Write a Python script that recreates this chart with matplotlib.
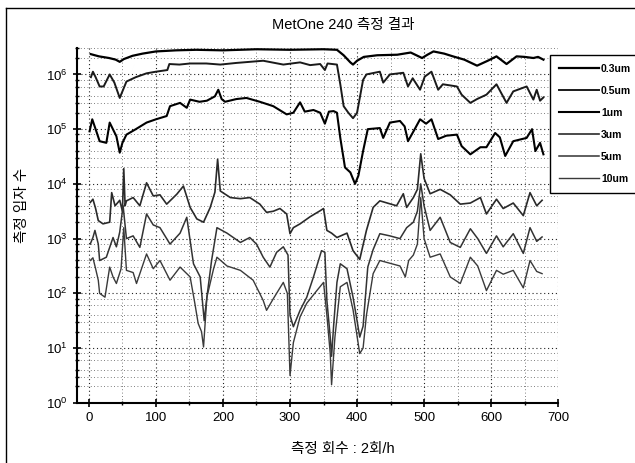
import numpy as np
import matplotlib
matplotlib.use('Agg')
import matplotlib.pyplot as plt
from matplotlib.ticker import MultipleLocator, LogLocator, NullFormatter
from matplotlib.lines import Line2D

# values are log10(count)
x_03 = [3, 15, 30, 40, 46, 52, 65, 80, 100, 130, 160, 200, 250, 300, 350, 370, 380, 390, 394, 400,
        410, 430, 460, 480, 497, 505, 514, 530, 543, 560, 579, 595, 608, 623, 638, 650, 663, 670, 678]
lg_03 = [6.37, 6.33, 6.30, 6.27, 6.23, 6.28, 6.34, 6.38, 6.42, 6.44, 6.45, 6.44, 6.46, 6.45, 6.46, 6.45, 6.35, 6.22, 6.18, 6.25,
         6.32, 6.35, 6.36, 6.40, 6.30, 6.36, 6.42, 6.38, 6.33, 6.27, 6.16, 6.25, 6.33, 6.19, 6.33, 6.32, 6.30, 6.32, 6.27]

x_05 = [3, 6, 10, 16, 22, 31, 38, 46, 52, 56, 70, 86, 100, 117, 120, 135, 151, 175, 196, 220,
        240, 260, 290, 315, 330, 345, 352, 356, 370, 375, 380, 387, 394, 400, 409, 414, 434, 439, 449, 469,
        476, 483, 494, 501, 511, 521, 528, 549, 556, 569, 579, 593, 608, 623, 633, 653, 663, 668, 673, 678]
lg_05 = [5.95, 6.05, 5.95, 5.78, 5.78, 6.00, 5.85, 5.57, 5.75, 5.87, 5.95, 6.02, 6.05, 6.08, 6.19, 6.18, 6.20, 6.20, 6.18, 6.21,
         6.23, 6.25, 6.18, 6.22, 6.17, 6.19, 6.08, 6.20, 6.18, 5.82, 5.42, 5.30, 5.20, 5.30, 5.90, 6.00, 6.05, 5.85, 6.00, 6.03,
         5.78, 5.93, 5.72, 5.96, 6.05, 5.72, 5.82, 5.78, 5.63, 5.48, 5.55, 5.63, 5.82, 5.48, 5.69, 5.78, 5.54, 5.72, 5.52, 5.58]

x_1 = [1, 5, 10, 16, 26, 31, 41, 46, 50, 56, 70, 86, 100, 116, 121, 136, 146, 151, 165, 176,
       188, 193, 198, 203, 220, 235, 255, 275, 295, 305, 315, 322, 335, 345, 352, 358, 365, 370, 375, 382,
       390, 397, 402, 409, 416, 434, 439, 449, 464, 471, 476, 486, 494, 503, 511, 521, 533, 549, 556, 569,
       584, 593, 606, 613, 621, 633, 653, 661, 666, 673, 678]
lg_1 = [4.96, 5.18, 5.00, 4.78, 4.75, 5.12, 4.87, 4.57, 4.75, 4.90, 5.00, 5.12, 5.18, 5.24, 5.42, 5.48, 5.39, 5.54, 5.50, 5.52,
        5.60, 5.72, 5.55, 5.50, 5.55, 5.57, 5.50, 5.42, 5.27, 5.30, 5.49, 5.32, 5.35, 5.30, 5.10, 5.32, 5.33, 5.30, 4.84, 4.30,
        4.21, 4.00, 4.15, 4.60, 5.00, 5.02, 4.84, 5.12, 5.15, 5.05, 4.78, 5.00, 5.18, 5.10, 5.18, 4.82, 4.88, 4.90, 4.69, 4.54,
        4.67, 4.67, 4.93, 4.85, 4.51, 4.78, 4.84, 5.00, 4.60, 4.75, 4.54]

x_3 = [2, 6, 10, 14, 21, 31, 34, 39, 46, 50, 52, 54, 56, 66, 76, 86, 96, 106, 116, 131,
       141, 151, 161, 171, 181, 188, 192, 196, 211, 226, 240, 255, 265, 275, 285, 295, 300, 305, 315, 330,
       345, 350, 355, 362, 370, 385, 394, 404, 414, 424, 434, 459, 469, 474, 484, 490, 495, 500, 509, 524,
       539, 554, 569, 584, 593, 608, 618, 633, 648, 658, 668, 676]
lg_3 = [3.66, 3.72, 3.55, 3.33, 3.27, 3.30, 3.84, 3.60, 3.70, 3.50, 4.28, 3.60, 3.69, 3.75, 3.60, 4.02, 3.78, 3.80, 3.63, 3.81,
        3.96, 3.57, 3.36, 3.30, 3.57, 3.85, 4.45, 3.87, 3.75, 3.73, 3.75, 3.63, 3.48, 3.50, 3.55, 3.45, 3.09, 3.20, 3.27, 3.40,
        3.51, 3.55, 3.15, 3.10, 3.02, 3.10, 2.78, 2.62, 3.15, 3.57, 3.69, 3.60, 3.82, 3.57, 3.75, 3.90, 4.55, 4.10, 3.82, 3.90,
        3.80, 3.63, 3.65, 3.75, 3.45, 3.72, 3.55, 3.65, 3.42, 3.84, 3.60, 3.70]

x_5 = [2, 6, 9, 14, 16, 26, 36, 41, 46, 51, 56, 66, 76, 86, 96, 106, 121, 136, 146, 156,
       166, 172, 176, 183, 191, 206, 226, 240, 250, 260, 270, 280, 290, 297, 300, 305, 315, 325, 335, 347,
       352, 355, 360, 362, 365, 370, 375, 385, 394, 400, 404, 409, 416, 424, 434, 449, 464, 474, 484, 490,
       495, 500, 509, 524, 539, 554, 569, 580, 593, 608, 618, 633, 648, 658, 668, 676]
lg_5 = [2.90, 3.02, 3.15, 2.90, 2.60, 2.66, 3.02, 2.85, 3.12, 3.60, 3.00, 3.05, 2.84, 3.45, 3.25, 3.20, 2.90, 3.10, 3.39, 2.54,
        2.30, 1.50, 1.93, 2.60, 3.20, 3.10, 2.93, 3.02, 2.90, 2.66, 2.48, 2.75, 2.85, 2.70, 1.60, 1.39, 1.69, 1.93, 2.30, 2.78,
        2.75, 1.87, 1.20, 0.85, 1.40, 2.20, 2.54, 2.45, 1.93, 1.50, 1.20, 1.40, 2.48, 2.80, 3.09, 3.05, 3.00, 3.20, 3.30, 3.50,
        4.00, 3.60, 3.15, 3.39, 2.93, 2.84, 3.18, 3.00, 2.73, 3.05, 2.85, 3.09, 2.73, 3.20, 2.95, 3.03]

x_10 = [2, 6, 10, 14, 16, 24, 31, 36, 41, 48, 52, 56, 66, 71, 86, 96, 106, 121, 136, 151,
        158, 163, 168, 171, 176, 186, 191, 206, 226, 245, 260, 265, 275, 290, 296, 300, 305, 315, 325, 340,
        350, 355, 360, 362, 367, 375, 385, 394, 404, 409, 414, 424, 434, 449, 464, 472, 477, 484, 490, 495,
        500, 509, 524, 539, 554, 569, 580, 593, 608, 618, 633, 648, 658, 668, 676]
lg_10 = [2.60, 2.65, 2.45, 2.24, 2.00, 1.93, 2.48, 2.30, 2.18, 2.45, 3.20, 2.42, 2.38, 2.18, 2.72, 2.45, 2.60, 2.24, 2.48, 2.30,
         1.82, 1.45, 1.30, 1.02, 1.93, 2.45, 2.66, 2.50, 2.42, 2.24, 1.87, 1.69, 1.90, 2.20, 2.00, 0.50, 1.10, 1.57, 1.82, 2.05,
         2.20, 1.60, 0.90, 0.33, 1.20, 2.12, 2.20, 1.70, 0.90, 1.00, 1.60, 2.36, 2.60, 2.55, 2.50, 2.30, 2.60, 2.70, 2.90, 3.75,
         3.00, 2.66, 2.72, 2.30, 2.18, 2.66, 2.50, 2.05, 2.42, 2.35, 2.42, 2.10, 2.60, 2.40, 2.36]

labels = ['0.3um', '0.5um', '1um', '3um', '5um', '10um']
xs = [x_03, x_05, x_1, x_3, x_5, x_10]
lgs = [lg_03, lg_05, lg_1, lg_3, lg_5, lg_10]
colors = ['#000000', '#1a1a1a', '#000000', '#2a2a2a', '#333333', '#3a3a3a']
widths = [1.6, 1.4, 1.5, 1.2, 1.1, 1.0]

plt.rcParams['font.family'] = ['Liberation Sans', 'Noto Sans CJK KR']

fig = plt.figure(figsize=(6.35, 4.63), dpi=100)
ax = fig.add_axes([0.121, 0.13, 0.758, 0.766])

for x, lg, lab, c, w in zip(xs, lgs, labels, colors, widths):
    ax.plot(x, 10 ** np.array(lg), color=c, lw=w, label=lab)

ax.set_yscale('log')
ax.set_ylim(1, 10 ** 6.48)
ax.set_xlim(-18, 700)
ax.xaxis.set_major_locator(MultipleLocator(100))
ax.xaxis.set_minor_locator(MultipleLocator(50))
ax.yaxis.set_major_locator(LogLocator(base=10, numticks=10))
ax.yaxis.set_minor_locator(LogLocator(base=10, subs=[2, 3, 4, 6, 8], numticks=20))
ax.yaxis.set_minor_formatter(NullFormatter())

ax.grid(True, which='major', color='#222222', ls=(0, (1, 2.5)), lw=0.8)
ax.grid(True, which='minor', color='#555555', ls=(0, (1, 3)), lw=0.6)
for s in ['top', 'right']:
    ax.spines[s].set_visible(False)
for s in ['left', 'bottom']:
    ax.spines[s].set_linewidth(1.5)
ax.tick_params(which='major', direction='inout', length=6, width=1.2, labelsize=9.5)
ax.tick_params(which='minor', direction='inout', length=3, width=1)

leg = fig.legend(loc='upper left', bbox_to_anchor=(0.858, 0.893), fontsize=7.5,
                 frameon=True, fancybox=False, edgecolor='black', framealpha=1,
                 handlelength=3.8, labelspacing=1.15, borderpad=0.9, handletextpad=0.2)
leg.get_frame().set_linewidth(1.0)
for t in leg.get_texts():
    t.set_fontweight('bold')

fig.text(0.54, 0.946, 'MetOne 240 측정 결과', ha='center', va='center', fontsize=10.5)
fig.text(0.54, 0.03, '측정 회수 : 2회/h', ha='center', va='center', fontsize=10.5)
fig.text(0.035, 0.557, '측정 입자 수', ha='center', va='center', rotation=90, fontsize=10.5)

# scanned page frame: left and top edges
fig.add_artist(Line2D([0.0095, 0.0095], [0.0, 0.983], transform=fig.transFigure, color='black', lw=1.0))
fig.add_artist(Line2D([0.0095, 1.0], [0.983, 0.983], transform=fig.transFigure, color='black', lw=1.0))

fig.savefig('out.png', dpi=100)
